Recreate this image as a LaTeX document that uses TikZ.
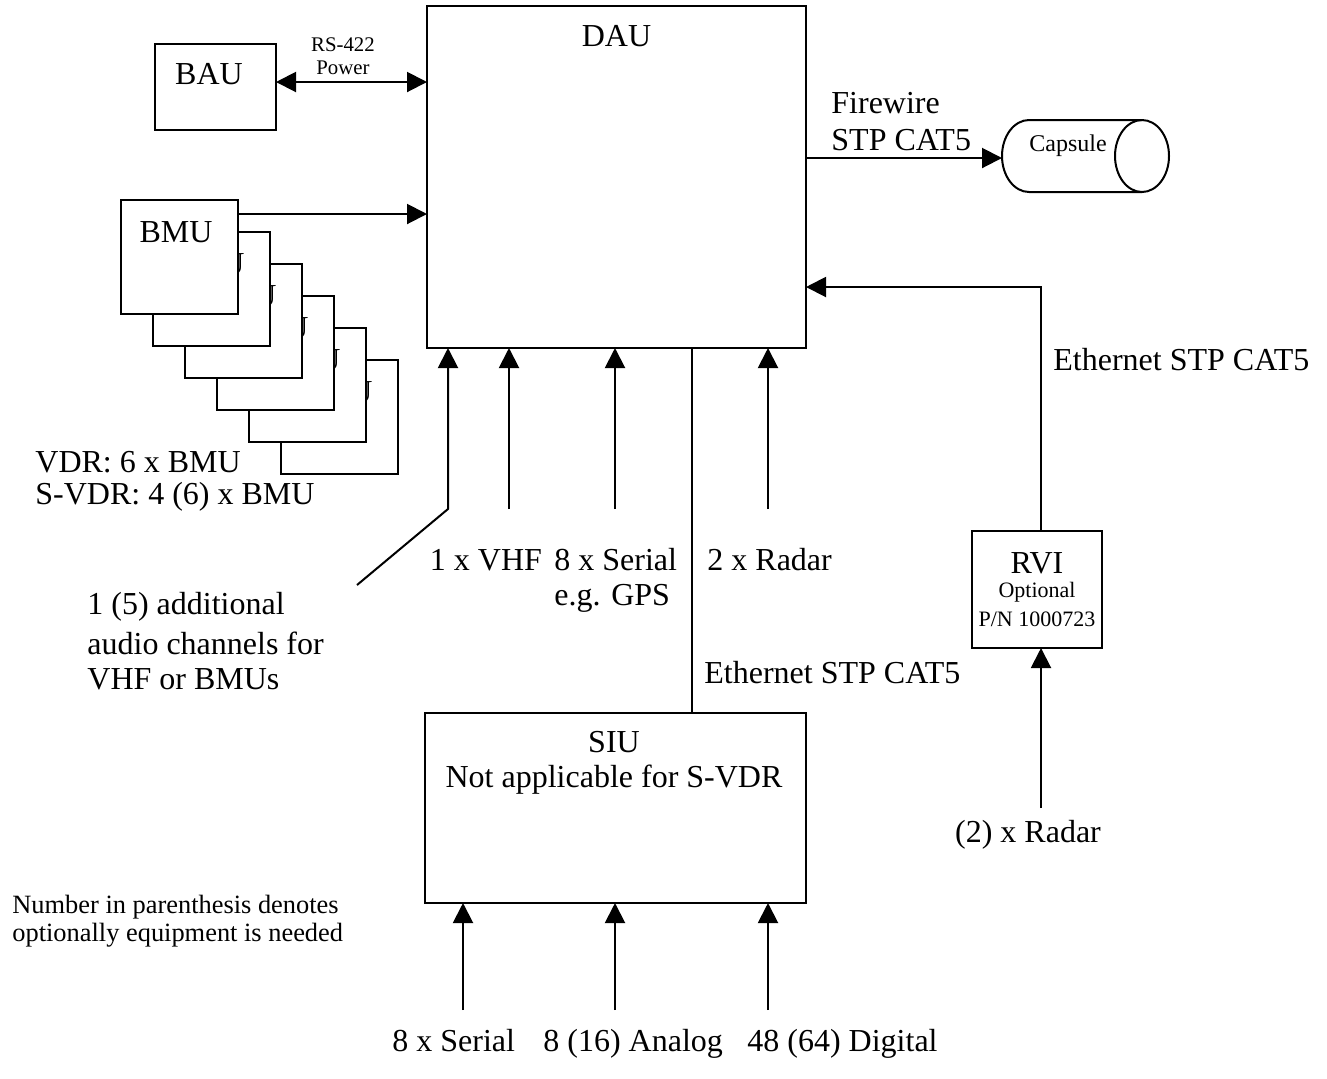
\documentclass[tikz,border=0pt]{standalone}
\usepackage{fontspec}
\setmainfont{Liberation Serif}
\usetikzlibrary{arrows.meta}
\begin{document}
\begin{tikzpicture}[x=0.5pt,y=-0.5pt,
  box/.style={draw,line width=1pt,fill=white,inner sep=0,outer sep=0},
  conn/.style={line width=1pt},
  tip/.tip={Triangle[length=10pt,width=10pt]},
  arr/.style={conn,-tip},
  txt/.style={inner sep=0,font=\fontsize{16}{18}\selectfont},
  ltxt/.style={txt,anchor=west,align=left},
  btxt/.style={txt,anchor=base west},
  small/.style={inner sep=0,font=\fontsize{10.4}{12}\selectfont},
  note/.style={inner sep=0,anchor=west,align=left,font=\fontsize{13.2}{13.5}\selectfont}]
\useasboundingbox (0,0) rectangle (1327,1078);

% DAU
\node[box,minimum width=189.5pt,minimum height=171pt] (dau) at (616.5,177) {};
\node[txt] (daul) at (616.5,36) {DAU};

% BAU
\node[box,minimum width=60.5pt,minimum height=43pt] (bau) at (215.5,87) {};
\node[txt] (baul) at (209,74) {BAU};
\coordinate (rs) at (276,82);
\draw[conn,tip-tip] (rs) -- (rs -| dau.west);
\node[small] (rsl) at (343,45) {RS-422};
\node[small] (pwl) at (343,68) {Power};

% BMU stack
\foreach \i in {5,4,...,0}{
  \node[box,minimum width=58.5pt,minimum height=57pt] (bmu\i) at ({179.5+32*\i},{257+32*\i}) {};
  \node[txt] (bmul\i) at ({176+32*\i},{232+32*\i}) {BMU};
}
\coordinate (b0) at (238,214);
\draw[arr] (b0) -- (b0 -| dau.west);
\node[ltxt] (vdr) at (35,462) {VDR: 6 x BMU};
\node[ltxt] (svdr) at (35,497) {S-VDR: 4 (6) x BMU};

% Capsule
\draw[conn] (1142,120) -- (1029,120) arc[start angle=90,end angle=270,x radius=13.5pt,y radius=18pt] -- (1142,192);
\draw[conn] (1142,156) ellipse[x radius=13.5pt,y radius=18pt];
\node[inner sep=0,font=\fontsize{12}{14}\selectfont] (cap) at (1068,146) {Capsule};
\coordinate (capL) at (1002,158);
\draw[arr] (capL -| dau.east) -- (capL);
\node[ltxt] (fw) at (831,103) {Firewire};
\node[ltxt] (fwstp) at (831,140) {STP CAT5};

% RVI
\node[box,minimum width=65pt,minimum height=58.5pt] (rvi) at (1037,589.5) {};
\node[txt] (rvil) at (1037,563) {RVI};
\node[inner sep=0,font=\fontsize{11}{13}\selectfont] (rvio) at (1037,592) {Optional};
\node[inner sep=0,font=\fontsize{11}{13}\selectfont] (rvip) at (1037,619) {P/N 1000723};
\coordinate (rtop) at (1041,531);
\coordinate (rin) at (806,287);
\draw[arr] (rtop) |- (rin -| dau.east);
\node[ltxt] (eth1) at (1053,360) {Ethernet STP CAT5};
\coordinate (rb) at (1041,808);
\draw[arr] (rb) -- (rb |- rvi.south);
\node[txt] (radar2) at (1028,835) {(2) x Radar};

% DAU bottom inputs
\coordinate (aud) at (357,585);
\coordinate (v0) at (448,509);
\coordinate (v1) at (509,509);
\coordinate (v2) at (615,509);
\coordinate (v3) at (768,509);
\draw[arr] (aud) -- (v0) -- (v0 |- dau.south);
\draw[arr] (v1) -- (v1 |- dau.south);
\draw[arr] (v2) -- (v2 |- dau.south);
\draw[arr] (v3) -- (v3 |- dau.south);
\node[txt] (vhf) at (486,560) {1 x VHF};
\node[ltxt] (ser) at (554,560) {8 x Serial};
\node[ltxt] (gps) at (554,598) {e.g. GPS};
\node[ltxt] (rad) at (707,560) {2 x Radar};
\node[ltxt] (a1) at (87,607) {1 (5) additional};
\node[ltxt] (a2) at (87,643) {audio channels for};
\node[ltxt] (a3) at (87,679) {VHF or BMUs};

% SIU
\node[box,minimum width=190.5pt,minimum height=95pt] (siu) at (615.5,808) {};
\node[txt] (siul) at (614,742) {SIU};
\node[txt] (siun) at (614,780) {Not applicable for S-VDR};
\coordinate (eth) at (692,500);
\draw[conn] (eth |- dau.south) -- (eth |- siu.north);
\node[ltxt] (eth2) at (704,673) {Ethernet STP CAT5};

\coordinate (s1) at (463,1010);
\coordinate (s2) at (615,1010);
\coordinate (s3) at (768,1010);
\draw[arr] (s1) -- (s1 |- siu.south);
\draw[arr] (s2) -- (s2 |- siu.south);
\draw[arr] (s3) -- (s3 |- siu.south);
\node[btxt] (b1) at (392,1051) {8 x Serial};
\node[btxt] (b2) at (543,1051) {8 (16) Analog};
\node[btxt] (b3) at (747,1051) {48 (64) Digital};

% note
\node[note] (n1) at (12,907) {Number in parenthesis denotes};
\node[note] (n2) at (12,935) {optionally equipment is needed};
\end{tikzpicture}
\end{document}
